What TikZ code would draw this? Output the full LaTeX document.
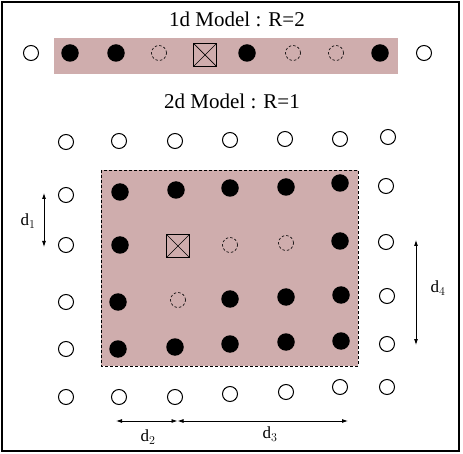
\documentclass[tikz,border=0pt]{standalone}
\usepackage{fontspec}
\setmainfont{Liberation Serif}
\usetikzlibrary{arrows.meta}
\definecolor{pinkbg}{RGB}{207,173,173}
\begin{document}
\begin{tikzpicture}[x=1pt,y=-1pt,
  opennode/.style={circle,draw,line width=1pt,minimum size=15pt,inner sep=0pt},
  fillnode/.style={circle,fill=black,minimum size=17.5pt,inner sep=0pt},
  dashnode/.style={circle,draw,dashed,dash pattern=on 2.5pt off 2pt,line width=0.6pt,minimum size=15pt,inner sep=0pt},
  boxnode/.style={rectangle,draw,line width=0.8pt,minimum size=23pt,inner sep=0pt,
    path picture={\draw[line width=0.7pt] (path picture bounding box.north west) -- (path picture bounding box.south east)
      (path picture bounding box.north east) -- (path picture bounding box.south west);}},
  title/.style={font=\fontsize{21}{24}\selectfont},
  dlabel/.style={font=\fontsize{17}{20}\selectfont},
  dim/.style={line width=0.8pt,{Latex[length=6pt,width=4pt]}-{Latex[length=6pt,width=4pt]}}
]
\useasboundingbox (0,0) rectangle (463,454);
\draw[line width=1.2pt] (2,2) rectangle (459,451);
% 1d model
\node[title] (t1) at (237,19) {1d Model : R=2};
\fill[pinkbg] (54,38) rectangle (398,74);
\node[opennode] (a1) at (31,53) {};
\node[fillnode] (a2) at (70,53) {};
\node[fillnode] (a3) at (116,53) {};
\node[dashnode] (a4) at (159,53) {};
\node[boxnode] (a5) at (205,55) {};
\node[fillnode] (a6) at (247,53) {};
\node[dashnode] (a7) at (293,53) {};
\node[dashnode] (a8) at (336,53) {};
\node[fillnode] (a9) at (380,53) {};
\node[opennode] (a10) at (424,53) {};
% 2d model
\node[title] (t2) at (232,101) {2d Model : R=1};
\fill[pinkbg] (101,170) rectangle (358,366);
\draw[dashed,dash pattern=on 3pt off 2pt,line width=0.7pt] (101,170) rectangle (358,366);
% row 1
\node[opennode] (r1c1) at (66,142) {};
\node[opennode] (r1c2) at (119,141) {};
\node[opennode] (r1c3) at (175,141) {};
\node[opennode] (r1c4) at (230,140) {};
\node[opennode] (r1c5) at (285,139) {};
\node[opennode] (r1c6) at (340,139) {};
\node[opennode] (r1c7) at (388,137) {};
% row 2
\node[opennode] (r2c1) at (66,195) {};
\node[fillnode] (r2c2) at (120,192) {};
\node[fillnode] (r2c3) at (176,190) {};
\node[fillnode] (r2c4) at (230,188) {};
\node[fillnode] (r2c5) at (286,187) {};
\node[fillnode] (r2c6) at (340,183) {};
\node[opennode] (r2c7) at (386,186) {};
% row 3
\node[opennode] (r3c1) at (66,245) {};
\node[fillnode] (r3c2) at (120,245) {};
\node[boxnode] (r3c3) at (178,246) {};
\node[dashnode] (r3c4) at (230,245) {};
\node[dashnode] (r3c5) at (286,243) {};
\node[fillnode] (r3c6) at (340,241) {};
\node[opennode] (r3c7) at (386,242) {};
% row 4
\node[opennode] (r4c1) at (66,302) {};
\node[fillnode] (r4c2) at (118,302) {};
\node[dashnode] (r4c3) at (178,300) {};
\node[fillnode] (r4c4) at (230,299) {};
\node[fillnode] (r4c5) at (286,297) {};
\node[fillnode] (r4c6) at (341,295) {};
\node[opennode] (r4c7) at (387,296) {};
% row 5
\node[opennode] (r5c1) at (66,349) {};
\node[fillnode] (r5c2) at (118,349) {};
\node[fillnode] (r5c3) at (175,347) {};
\node[fillnode] (r5c4) at (230,344) {};
\node[fillnode] (r5c5) at (286,342) {};
\node[fillnode] (r5c6) at (341,341) {};
\node[opennode] (r5c7) at (387,344) {};
% row 6
\node[opennode] (r6c1) at (66,397) {};
\node[opennode] (r6c2) at (119,397) {};
\node[opennode] (r6c3) at (175,397) {};
\node[opennode] (r6c4) at (230,394) {};
\node[opennode] (r6c5) at (286,392) {};
\node[opennode] (r6c6) at (340,387) {};
\node[opennode] (r6c7) at (387,387) {};
% dimensions
\coordinate (d1a) at (44,193);
\coordinate (d1b) at (44,247);
\draw[dim] (d1a) -- (d1b);
\node[dlabel] (l1) at (28,221) {d$_1$};
\coordinate (d2a) at (116,421);
\coordinate (d2b) at (177.5,421);
\coordinate (d3b) at (348,421);
\draw[dim] (d2a) -- (d2b);
\draw[dim] (d2b) -- (d3b);
\node[dlabel] (l2) at (148,437) {d$_2$};
\node[dlabel] (l3) at (270,434) {d$_3$};
\coordinate (d4a) at (416,240);
\coordinate (d4b) at (416,345);
\draw[dim] (d4a) -- (d4b);
\node[dlabel] (l4) at (438,288) {d$_4$};
\end{tikzpicture}
\end{document}
